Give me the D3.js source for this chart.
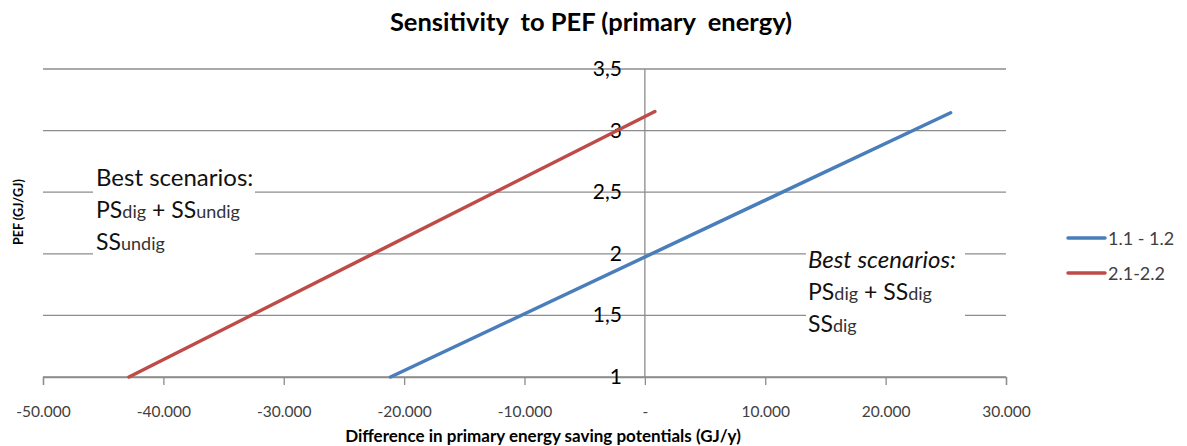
<!DOCTYPE html>
<html>
<head>
<meta charset="utf-8">
<script src="https://cdn.jsdelivr.net/npm/d3@7"></script>
<style>
  body { margin: 0; background: #fff; }
  text { font-family: Lato, "Open Sans", sans-serif; }
</style>
</head>
<body>
<div id="chart-area"></div>
<script>
// data
var seriesNames = ["1.1 - 1.2", "2.1-2.2"];
var seriesColors = ["#4a7ebb", "#be4b48"];
var blueX = [-21130, 25400];
var blueY = [1, 3.145];
var redX = [-42860, 830];
var redY = [1, 3.155];
var xTicks = [-50000, -40000, -30000, -20000, -10000, 0, 10000, 20000, 30000];
var yTicks = [1, 1.5, 2, 2.5, 3, 3.5];

var width = 1187, height = 446;
var gridColor = "#8c8c8c";

// european style numbers: "." thousands, "," decimals, plain hyphen
var locale = d3.formatLocale({
    decimal: ",", thousands: ".", grouping: [3], currency: ["", ""], minus: "-"
});
var fmtThousands = locale.format(",");

var svg = d3.select("#chart-area").append("svg")
    .attr("width", width)
    .attr("height", height);

var x = d3.scaleLinear().domain([-50000, 30000]).range([43, 1006]);
var y = d3.scaleLinear().domain([1, 3.5]).range([377, 69]);

// horizontal gridlines
svg.selectAll(".grid")
    .data(yTicks)
    .enter()
    .append("line")
        .attr("x1", x(-50000))
        .attr("x2", x(30000))
        .attr("y1", function(d){ return y(d); })
        .attr("y2", function(d){ return y(d); })
        .attr("stroke", gridColor)
        .attr("stroke-width", 1.3);

// x axis (ticks pointing down)
var xAxis = svg.append("g")
    .attr("transform", "translate(0," + y(1) + ")")
    .call(d3.axisBottom(x)
        .tickValues(xTicks)
        .tickSize(8)
        .tickPadding(21)
        .tickFormat(function(d){
            if (d === 0) { return "-"; }
            return fmtThousands(d);
        }));
xAxis.select(".domain").attr("stroke", gridColor).attr("stroke-width", 1.3);
xAxis.selectAll(".tick line").attr("stroke", gridColor).attr("stroke-width", 1.3);
xAxis.selectAll(".tick text")
    .attr("font-size", 15.5)
    .attr("fill", "#404040")
    .style("font-family", "Lato, sans-serif");

// vertical axis at x = 0
svg.append("line")
    .attr("x1", x(0)).attr("x2", x(0))
    .attr("y1", y(3.5)).attr("y2", y(1))
    .attr("stroke", gridColor)
    .attr("stroke-width", 1.3);

// white boxes for the annotations (they hide gridlines)
svg.append("rect")
    .attr("x", 93).attr("y", 160).attr("width", 162).attr("height", 102)
    .attr("fill", "#fff");
svg.append("rect")
    .attr("x", 806).attr("y", 243).attr("width", 159).attr("height", 97)
    .attr("fill", "#fff");

// y tick labels, drawn left of the x = 0 axis
svg.selectAll(".ylab")
    .data(yTicks)
    .enter()
    .append("text")
        .attr("x", x(0) - 23)
        .attr("y", function(d){ return y(d) + 7; })
        .attr("text-anchor", "end")
        .attr("font-size", 21)
        .attr("fill", "#000")
        .text(function(d){ return locale.format("")(d); });

// lines
var line = d3.line()
    .x(function(d){ return x(d[0]); })
    .y(function(d){ return y(d[1]); });

var seriesData = [
    d3.zip(blueX, blueY),
    d3.zip(redX, redY)
];

svg.selectAll(".series")
    .data(seriesData)
    .enter()
    .append("path")
        .attr("d", line)
        .attr("fill", "none")
        .attr("stroke", function(d, i){ return seriesColors[i]; })
        .attr("stroke-width", 3.5)
        .attr("stroke-linecap", "round");

// annotations
function note(x0, y0, italic, rows){
    var g = svg.append("g");
    g.append("text")
        .attr("x", x0).attr("y", y0)
        .attr("font-size", 24)
        .attr("font-style", italic ? "italic" : "normal")
        .attr("fill", "#111")
        .text("Best scenarios:");
    rows.forEach(function(row, r){
        var t = g.append("text")
            .attr("x", x0).attr("y", y0 + 32 * (r + 1))
            .attr("fill", "#111");
        row.forEach(function(part){
            t.append("tspan")
                .attr("font-size", part[1] ? 18 : 23)
                .attr("fill", part[1] ? "#333" : "#111")
                .text(part[0]);
        });
    });
}
note(96, 186, false, [
    [["PS", 0], ["dig", 1], [" + SS", 0], ["undig", 1]],
    [["SS", 0], ["undig", 1]]
]);
note(808, 268, true, [
    [["PS", 0], ["dig", 1], [" + SS", 0], ["dig", 1]],
    [["SS", 0], ["dig", 1]]
]);

// title
svg.append("text")
    .attr("x", 591)
    .attr("y", 31)
    .attr("text-anchor", "middle")
    .attr("font-size", 25.5)
    .attr("font-weight", "bold")
    .style("white-space", "pre")
    .text("Sensitivity  to PEF (primary  energy)");

// axis titles
svg.append("text")
    .attr("x", 543)
    .attr("y", 442)
    .attr("text-anchor", "middle")
    .attr("font-size", 17)
    .attr("font-weight", "bold")
    .text("Difference in primary energy saving potentials (GJ/y)");

svg.append("text")
    .attr("transform", "translate(23,212) rotate(-90)")
    .attr("text-anchor", "middle")
    .attr("font-size", 12.5)
    .attr("font-weight", "bold")
    .text("PEF (GJ/GJ)");

// legend
var legend = svg.selectAll(".legend")
    .data(seriesNames)
    .enter()
    .append("g")
        .attr("transform", function(d, i){ return "translate(1068," + (238 + i * 35) + ")"; });
legend.append("line")
    .attr("x1", 0).attr("x2", 37)
    .attr("stroke", function(d, i){ return seriesColors[i]; })
    .attr("stroke-width", 3.5)
    .attr("stroke-linecap", "round");
legend.append("text")
    .attr("x", 40)
    .attr("y", 6.5)
    .attr("font-size", 18)
    .attr("fill", "#404040")
    .text(function(d){ return d; });
</script>
</body>
</html>
